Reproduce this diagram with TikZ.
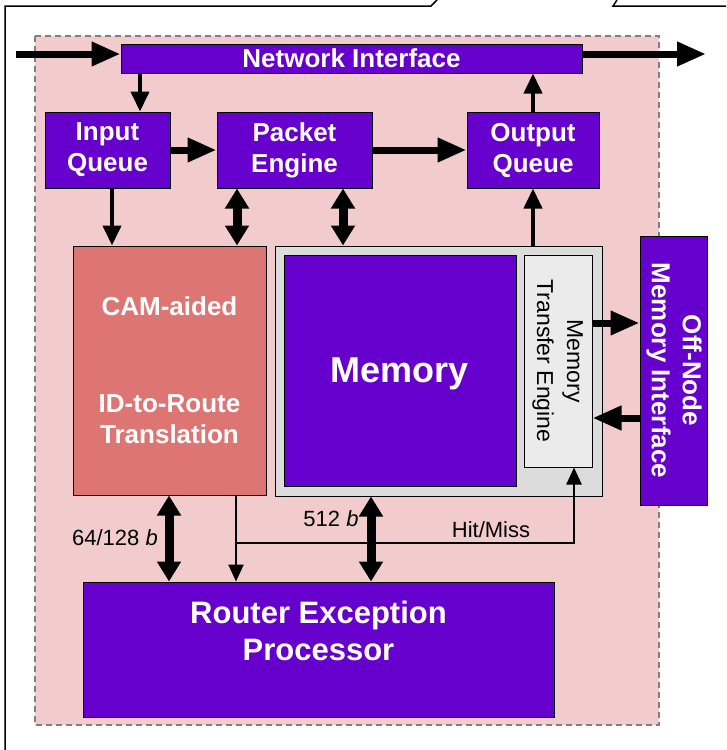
\documentclass[tikz,border=0pt]{standalone}
\usepackage{fontspec}
\setmainfont{Liberation Sans}
\usetikzlibrary{arrows.meta}
\definecolor{chipviolet}{RGB}{102,0,204}
\definecolor{nodepink}{RGB}{242,204,204}
\definecolor{camred}{RGB}{221,117,115}
\definecolor{memgray}{RGB}{220,220,220}
\definecolor{mtegray}{RGB}{235,235,235}
\tikzset{
  unit/.style={draw=black, line width=1pt, fill=chipviolet, text=white, inner sep=0pt,
    align=center, font=\bfseries\fontsize{26}{31}\selectfont},
  fatarr/.style={line width=7pt, -{Triangle[length=29pt,width=23pt]}},
  thinarr/.style={line width=4pt, -{Triangle[length=20pt,width=18pt]}},
  hairarr/.style={line width=2.5pt, -{Triangle[length=17pt,width=15pt]}},
  dblarr/.style={line width=9pt, {Triangle[length=20pt,width=23pt]}-{Triangle[length=20pt,width=23pt]}},
  note/.style={font=\fontsize{22}{26}\selectfont, inner sep=0pt}
}
\newcommand{\hwblock}[6]{%
  \node[#1, minimum width={(#4-#2)*1pt}, minimum height={(#5-#3)*1pt}]
    (#6) at ({(#2+#4)/2},{(#3+#5)/2})}

\begin{document}
\begin{tikzpicture}[x=1pt,y=-1pt]
    \useasboundingbox (0,0) rectangle (726,750);
    \draw[line width=1.5pt] (437,0) -- (431,6) -- (5,6) -- (5,750);
    \draw[line width=1.5pt] (617,0) -- (613,6) -- (726,6);
    \draw[gray, line width=1.3pt, dash pattern=on 6pt off 4pt, fill=nodepink] (35,36) rectangle (659,725);

    \hwblock{unit}{121}{44}{582}{73}{ni} {Network Interface};
    \hwblock{unit}{45}{112}{170}{188}{iq} {Input\\Queue};
    \hwblock{unit}{217}{112}{372}{188}{pe} {Packet\\Engine};
    \hwblock{unit}{467}{112}{599}{188}{oq} {Output\\Queue};
    \hwblock{unit, fill=camred}{73}{246}{266}{495}{cam} {CAM-aided\\[66pt]ID-to-Route\\Translation};
    \hwblock{unit, fill=memgray}{275}{246}{602}{496}{membox} {};
    \hwblock{unit, text depth=0pt, font=\bfseries\fontsize{36}{43}\selectfont}{284}{255}{516}{486}{mem} {Memory};
    \hwblock{unit, fill=mtegray, text=black, font=\fontsize{23}{30}\selectfont}{524}{255}{592}{467}{mte}
      {\rotatebox{-90}{\begin{tabular}{@{}c@{}}Memory\\Transfer Engine\end{tabular}}};
    \hwblock{unit}{640}{236}{707}{505}{onmi}
      {\rotatebox{-90}{\begin{tabular}{@{}c@{}}Off-Node\\Memory Interface\end{tabular}}};
    \hwblock{unit, font=\bfseries\fontsize{31}{37}\selectfont}{83}{582}{554}{717}{rep} {Router Exception\\Processor\\~};

    \coordinate (netin) at (16,54);
    \coordinate (netout) at (706,54);
    \coordinate (hit) at (236,543);
    \draw[fatarr] (netin) -- (netin -| ni.west);
    \draw[fatarr] (netout -| ni.east) -- (netout);
    \draw[thinarr] (ni.south -| 140,0) -- (iq.north -| 140,0);
    \draw[fatarr] (iq) -- (pe);
    \draw[fatarr] (pe) -- (oq);
    \draw[thinarr] (oq.north) -- (oq.north |- ni.south);
    \draw[thinarr] (membox.north -| oq.south) -- (oq.south);
    \draw[thinarr] (iq.south -| 112,0) -- (cam.north -| 112,0);
    \foreach \x/\from/\to in {237/pe/cam, 343/pe/membox, 169/cam/rep, 371/membox/rep} {
      \draw[dblarr] (\from.south -| \x,0) -- (\to.north -| \x,0);
    }
    \draw[fatarr] (mte.east |- 0,323) -- (onmi.west |- 0,323);
    \draw[fatarr] (onmi.west |- 0,418) -- (mte.east |- 0,418);
    \draw[hairarr] (cam.south -| 236,0) -- (rep.north -| 236,0);
    \draw[hairarr] (hit) -| (mte.south -| 574,0);

    \node[note, anchor=east] (w64) at (158,538) {64/128 \textit{b}};
    \node[note] (w512) at (331,519) {512 \textit{b}};
    \node[note] (hm) at (491,530) {Hit/Miss};
\end{tikzpicture}
\end{document}
